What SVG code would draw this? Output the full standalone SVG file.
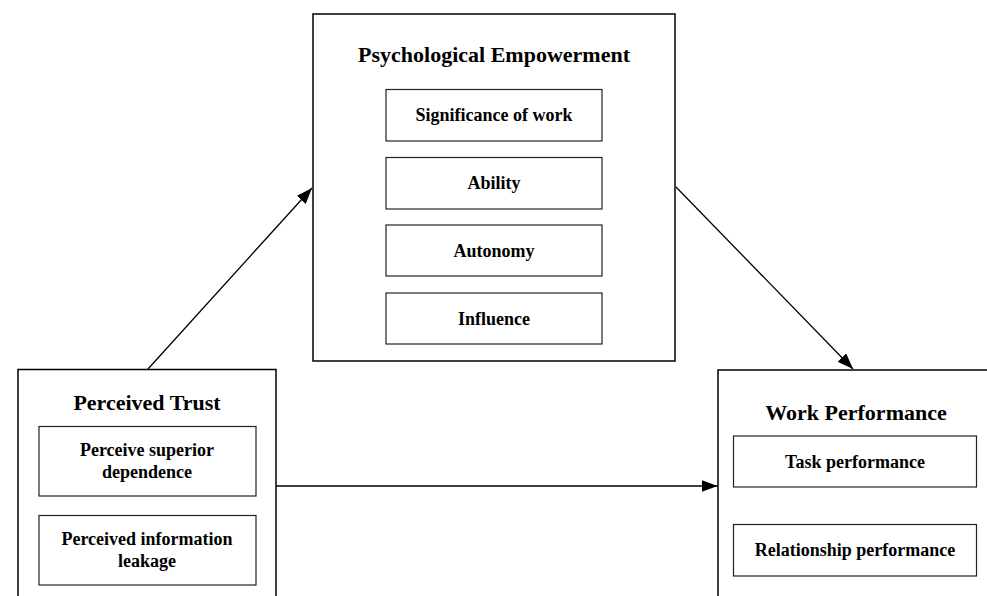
<svg xmlns="http://www.w3.org/2000/svg" width="987" height="596" viewBox="0 0 987 596">
  <style>
    .outer { fill: #ffffff; stroke: #000000; stroke-width: 1.5; }
    .inner { fill: #ffffff; stroke: #222222; stroke-width: 1.2; }
    .title { font-family: "Liberation Serif", "Times New Roman", serif; font-weight: bold; font-size: 22px; fill: #000000; text-anchor: middle; }
    .label { font-family: "Liberation Serif", "Times New Roman", serif; font-weight: bold; font-size: 18px; fill: #000000; text-anchor: middle; }
    .link { fill: none; stroke: #000000; stroke-width: 1.3; marker-end: url(#arrow); }
  </style>
  <defs>
    <marker id="arrow" markerUnits="userSpaceOnUse" markerWidth="17" markerHeight="13" refX="16" refY="6" orient="auto">
      <path d="M0,0 L16,6 L0,12 z" fill="#000000"/>
    </marker>
  </defs>
  <rect width="987" height="596" fill="#ffffff"/>

  <!-- Psychological Empowerment -->
  <g id="psychological-empowerment">
    <rect class="outer" x="313" y="14" width="362" height="347"/>
    <text class="title" x="494" y="62">Psychological Empowerment</text>
    <rect class="inner" x="386" y="89.5" width="216" height="51.5"/>
    <text class="label" x="494" y="121">Significance of work</text>
    <rect class="inner" x="386" y="157.5" width="216" height="51.5"/>
    <text class="label" x="494" y="189">Ability</text>
    <rect class="inner" x="386" y="225" width="216" height="51"/>
    <text class="label" x="494" y="256.5">Autonomy</text>
    <rect class="inner" x="386" y="293" width="216" height="51"/>
    <text class="label" x="494" y="324.5">Influence</text>
  </g>

  <!-- Perceived Trust -->
  <g id="perceived-trust">
    <rect class="outer" x="18" y="369.5" width="258" height="240"/>
    <text class="title" x="147" y="410">Perceived Trust</text>
    <rect class="inner" x="39" y="426.5" width="217" height="69.5"/>
    <text class="label" x="147" y="456">Perceive superior</text>
    <text class="label" x="147" y="478">dependence</text>
    <rect class="inner" x="39" y="515.5" width="217" height="69.5"/>
    <text class="label" x="147" y="545">Perceived information</text>
    <text class="label" x="147" y="567">leakage</text>
  </g>

  <!-- Work Performance -->
  <g id="work-performance">
    <rect class="outer" x="718" y="370" width="280" height="240"/>
    <text class="title" x="856" y="420">Work Performance</text>
    <rect class="inner" x="733.5" y="436" width="243" height="51"/>
    <text class="label" x="855" y="467.5">Task performance</text>
    <rect class="inner" x="733.5" y="524.5" width="243" height="51.5"/>
    <text class="label" x="855" y="556">Relationship performance</text>
  </g>

  <!-- Connectors -->
  <g id="connectors">
    <line class="link" x1="148" y1="369" x2="312" y2="188"/>
    <line class="link" x1="676" y1="187" x2="853" y2="369"/>
    <line class="link" x1="276" y1="486" x2="717.5" y2="486"/>
  </g>
</svg>
